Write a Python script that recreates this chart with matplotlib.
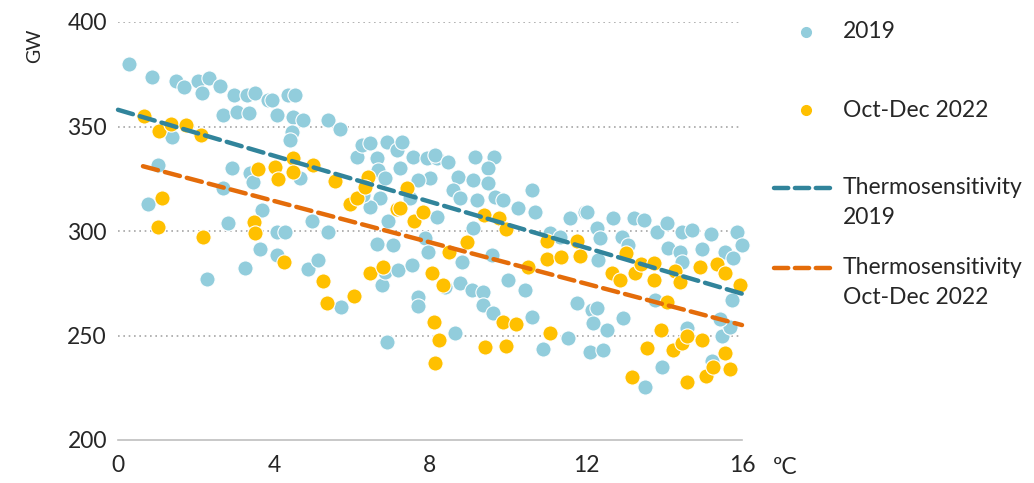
import matplotlib
matplotlib.use("Agg")
import matplotlib.pyplot as plt
from matplotlib.lines import Line2D

plt.rcParams['font.family'] = ['Lato', 'DejaVu Sans']

# 2019 daily points (temperature degC, consumption GW)
x2019 = [0.28, 0.87, 1.49, 1.69, 2.05, 2.33, 2.15, 2.62, 2.97, 3.3, 3.51, 3.85, 4.08, 2.69, 3.05, 3.36,
         1.38, 1.03, 2.92, 3.38, 3.46, 2.69, 3.69, 0.77, 2.82, 4.08, 3.64, 4.08, 3.26, 2.28,
         3.95, 4.36, 4.54, 4.49, 4.74, 4.46, 4.41, 5.38, 5.69, 4.67, 6.13, 6.26, 6.46, 6.64, 6.9, 7.15,
         7.28, 6.67, 6.85, 7.23, 7.56, 7.92, 8.18, 8.0, 7.69, 7.49, 6.72, 6.46, 6.28, 6.92, 8.18, 4.97,
         4.28, 5.38, 6.64, 7.05, 7.87, 4.87, 5.13, 5.72, 6.77, 6.85, 7.18, 7.54, 7.95, 7.69, 7.69, 6.9,
         8.13, 8.46, 9.15, 9.64, 8.72, 9.1, 9.49, 9.49, 8.59, 8.77, 9.2, 9.67, 9.87, 10.62, 10.26, 10.69,
         9.1, 8.82, 9.59, 11.59, 11.97, 11.08, 11.33, 8.77, 10.0, 10.44, 8.38, 9.08, 9.36, 9.36, 9.62,
         10.62, 8.64, 10.9, 11.54, 11.77, 12.1, 12.15,
         12.03, 12.7, 13.23, 13.49, 13.82, 14.08, 14.46, 14.72, 15.2, 15.87, 16.0, 12.28, 12.36, 12.92,
         13.08, 14.1, 14.4, 14.97, 15.56, 15.77, 12.3, 14.46,
         12.28, 12.18, 12.54, 12.95, 12.44, 13.77, 14.59, 13.95, 13.51, 15.74, 15.49, 15.69, 15.23, 15.44]
y2019 = [380, 373.7, 372, 369, 372, 373, 366, 369.4, 365, 365, 366, 362.7, 355.5, 355.5, 357, 356.5,
         345, 331.6, 330, 327.8, 323.5, 320.6, 310, 313, 303.8, 299.5, 291.4, 288.5, 282.3, 277,
         362.7, 365, 365, 354.5, 353, 347.4, 343.5, 353, 348.8, 325.4, 335.4, 341, 342, 335, 342.6, 338.8,
         342.6, 329, 325.4, 330, 335.4, 335, 335, 325.4, 324.4, 316, 316, 311.5, 317, 305, 306.7, 305,
         299.5, 299.5, 294, 293.3, 296.7, 282, 286.2, 263.6, 274, 280.4, 281.3, 283.7, 290, 268.4, 264, 247,
         336.4, 333, 335.4, 335.4, 326, 324.4, 330, 322.8, 319.6, 315.8, 314.8, 316.3, 314.8, 319.6, 311, 309,
         301.4, 285, 288.5, 306.2, 309, 299, 297, 275, 276.6, 271.8, 273, 271.8, 270.8, 264.6, 260.8,
         259, 251, 243.5, 249, 265.6, 242, 262,
         309, 306.2, 306.2, 305.3, 299.5, 303.8, 299.5, 300.5, 298.6, 299.5, 293.3, 301.4, 296.7, 297,
         293.3, 292, 290, 291.4, 290, 287, 286.1, 285,
         263, 256, 252.6, 258.4, 243, 267, 253.6, 235, 225.4, 267, 250, 254, 238, 258]

# Oct-Dec 2022 daily points
x2022 = [0.67, 1.05, 1.36, 1.74, 2.13, 1.13, 1.03, 2.18, 3.59, 4.03, 4.49, 4.49, 4.1, 5.0, 5.56, 5.95,
         6.13, 6.41, 6.33, 7.15, 7.41, 7.59, 3.49, 3.51, 4.26, 5.26, 5.36, 6.05, 6.46, 6.79, 8.05, 8.1,
         8.13, 7.23, 7.82, 8.95, 8.49, 8.33, 8.23, 9.41, 9.95, 9.87, 10.2, 9.38, 9.77, 9.95, 10.5, 11.0,
         11.0, 11.36, 11.77, 11.85, 11.08, 12.67, 12.87, 13.03, 13.26, 13.41, 13.74, 13.74, 14.08, 14.28,
         14.41, 14.92, 15.36, 15.56, 15.95, 13.92, 13.56, 13.18, 14.23, 14.46, 14.59, 14.97, 14.59, 15.08,
         15.26, 15.56, 15.69]
y2022 = [355, 348, 351, 350.5, 346, 316, 302, 297, 329.6, 330.6, 335, 328, 325, 331.6, 324, 313,
         316, 326, 321, 310.5, 320.5, 304.8, 304.3, 299, 285, 276, 265.6, 269, 280, 283, 280, 256.5,
         237, 311, 309, 294.7, 290, 274, 248, 244.5, 245, 256.5, 255.5, 307.7, 306, 301, 283, 295,
         286.6, 287.7, 295, 288, 251, 280, 276.6, 289.5, 280, 284, 284.7, 276.6, 266, 281,
         275.6, 283, 284, 280, 274, 252.6, 244, 230, 243, 246.4, 249.8, 248, 227.8, 230.6,
         235, 241.6, 234]

# Thermosensitivity trend lines (endpoints)
trend2019_x = [0, 16]
trend2019_y = [358, 270]
trend2022_x = [0.64, 16]
trend2022_y = [331, 255]

legend_labels = ["2019", "Oct-Dec 2022", "Thermosensitivity\n2019", "Thermosensitivity\nOct-Dec 2022"]
x_ticks = [0, 4, 8, 12, 16]
y_ticks = [200, 250, 300, 350, 400]

c_blue = '#92CDDC'
c_orange = '#FFC000'
c_teal = '#31849B'
c_dorange = '#E46C0A'
txt = '#262626'
fs = 16.5

fig = plt.figure(figsize=(10.34, 4.83), dpi=100)
ax = fig.add_axes([118/1034, 1-440/483, 624/1034, 418/483])

ax.scatter(x2019, y2019, s=120, color=c_blue, edgecolors='white', linewidths=0.8, zorder=3, clip_on=False)
ax.scatter(x2022, y2022, s=120, color=c_orange, edgecolors='white', linewidths=0.8, zorder=4, clip_on=False)
ax.plot(trend2019_x, trend2019_y, color=c_teal, lw=3.2, dashes=(3.5, 1.6),
        dash_capstyle='round', zorder=5, clip_on=False)
ax.plot(trend2022_x, trend2022_y, color=c_dorange, lw=3.2, dashes=(3.5, 1.6), dash_capstyle='round',
        zorder=5, clip_on=False)

ax.set_xlim(0, 16)
ax.set_ylim(200, 400)
ax.set_xticks(x_ticks)
ax.set_yticks(y_ticks)
for v in y_ticks[1:]:
    ax.axhline(v, color='#A6A6A6', lw=1.2, linestyle=(0, (1, 2.2)), zorder=1)
for s in ['top', 'right', 'left']:
    ax.spines[s].set_visible(False)
ax.spines['bottom'].set_color('#BFBFBF')
ax.spines['bottom'].set_linewidth(1.2)
ax.tick_params(axis='both', length=0, labelsize=fs, colors=txt)
ax.tick_params(axis='x', pad=11)
ax.tick_params(axis='y', pad=8)

fig.text(35/1034, 1-46/483, 'GW', rotation=90, ha='center', va='center', fontsize=14, color=txt)
fig.text(773/1034, 1-468/483, 'ºC', ha='left', va='center', fontsize=fs, color=txt)

# legend (manual)
tx = 843/1034
fig.add_artist(Line2D([806/1034], [1-32/483], marker='o', color=c_blue, markersize=7, lw=0,
                      transform=fig.transFigure))
fig.add_artist(Line2D([806/1034], [1-110/483], marker='o', color=c_orange, markersize=7, lw=0,
                      transform=fig.transFigure))
fig.add_artist(Line2D([774/1034, 832/1034], [1-188/483]*2, color=c_teal, lw=3.2, dashes=(3.2, 1.5),
                      dash_capstyle='round', transform=fig.transFigure))
fig.add_artist(Line2D([774/1034, 832/1034], [1-268/483]*2, color=c_dorange, lw=3.2, dashes=(3.2, 1.5),
                      dash_capstyle='round', transform=fig.transFigure))
fig.text(tx, 1-32/483, legend_labels[0], ha='left', va='center', fontsize=fs, color=txt)
fig.text(tx, 1-110/483, legend_labels[1], ha='left', va='center', fontsize=fs, color=txt)
l3 = legend_labels[2].split('\n')
l4 = legend_labels[3].split('\n')
fig.text(tx, 1-188/483, l3[0], ha='left', va='center', fontsize=fs, color=txt)
fig.text(tx, 1-218/483, l3[1], ha='left', va='center', fontsize=fs, color=txt)
fig.text(tx, 1-268/483, l4[0], ha='left', va='center', fontsize=fs, color=txt)
fig.text(tx, 1-298/483, l4[1], ha='left', va='center', fontsize=fs, color=txt)

fig.savefig('out.png', dpi=100)
